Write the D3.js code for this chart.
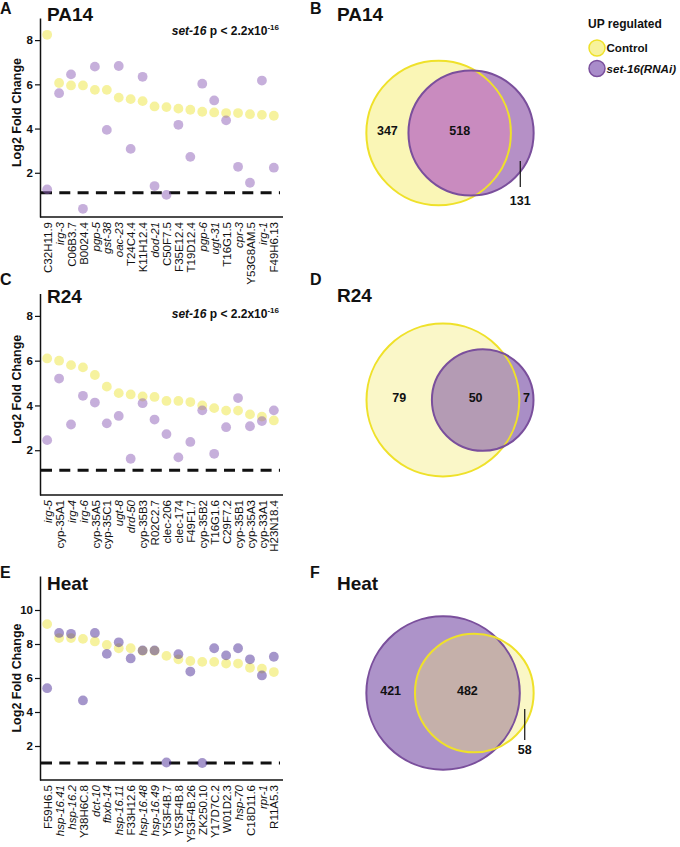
<!DOCTYPE html>
<html><head><meta charset="utf-8">
<script src="https://cdn.jsdelivr.net/npm/d3@7"></script>
<style>
body{margin:0;background:#fff}
svg{display:block}
text{font-family:"Liberation Sans",Arial,Helvetica,sans-serif;fill:#111}
</style>
</head><body>
<svg id="chart" width="680" height="847"></svg>
<script>
// ---------------- data ----------------
const pa14Genes = ["C32H11.9","irg-3","C06B3.7","B0024.4","pgp-5","gst-38","oac-23","T24C4.4","K11H12.4","dod-21","C50F7.5","F35E12.4","T19D12.4","pgp-6","ugt-31","T16G1.5","cpr-3","Y53G8AM.5","irg-1","F49H6.13"];
const pa14Italic = ["irg-3","pgp-5","gst-38","oac-23","dod-21","pgp-6","ugt-31","cpr-3","irg-1"];
const pa14Control = [8.24,6.06,5.95,5.95,5.75,5.75,5.4,5.33,5.24,5.0,4.97,4.9,4.85,4.76,4.73,4.7,4.7,4.65,4.62,4.58];
const pa14Set16 = [1.25,5.6,6.45,0.37,6.8,3.94,6.83,3.08,6.34,1.4,1.0,4.17,2.72,6.03,5.27,4.37,2.27,1.55,6.17,2.23];

const r24Genes = ["irg-5","cyp-35A1","irg-4","irg-6","cyp-35A5","cyp-35C1","ugt-8","drd-50","cyp-35B3","R02C2.7","clec-206","clec-174","F49F1.7","cyp-35B2","T16G1.6","C29F7.2","cyp-35B1","cyp-35A3","cyp-33A1","H23N18.4"];
const r24Italic = ["irg-5","irg-4","irg-6","ugt-8","drd-50"];
const r24Control = [6.1,6.0,5.8,5.7,5.36,4.84,4.55,4.49,4.4,4.38,4.2,4.2,4.15,4.0,3.88,3.77,3.77,3.6,3.5,3.33];
const r24Set16 = [2.45,5.2,3.15,4.43,4.13,3.2,3.53,1.62,4.1,3.37,2.72,1.68,2.37,3.78,1.84,3.03,4.33,3.07,3.3,3.78];

const heatGenes = ["F59H6.5","hsp-16.41","hsp-16.2","Y38H6C.8","dct-10","fbxb-14","hsp-16.11","F33H12.6","hsp-16.48","hsp-16.49","Y53F4B.7","Y53F4B.8","Y53F4B.26","ZK250.10","Y17D7C.2","W01D2.3","hsp-70","C18D11.6","rpr-1","R11A5.3"];
const heatItalic = ["hsp-16.41","hsp-16.2","dct-10","fbxb-14","hsp-16.11","hsp-16.48","hsp-16.49","hsp-70","rpr-1"];
const heatControl = [9.17,8.35,8.35,8.3,8.15,7.95,7.75,7.75,7.6,7.6,7.3,7.1,7.0,6.95,6.95,6.85,6.85,6.6,6.55,6.35];
const heatSet16 = [5.4,8.65,8.6,4.68,8.65,7.42,8.1,7.15,7.62,7.62,1.03,7.4,6.38,1.0,7.75,7.33,7.75,7.1,6.15,7.25];

const yTicksInfection = [2,4,6,8];
const yTicksHeat = [2,4,6,8,10];
const thresholds = [1.1, 1.1, 1.0];

// Venn counts: [left only, both, right only]; left circle is the larger set
const pa14Venn = {left:"Control", right:"set-16", counts:[347,518,131]};
const r24Venn  = {left:"Control", right:"set-16", counts:[79,50,7]};
const heatVenn = {left:"set-16", right:"Control", counts:[421,482,58]};

const legendItems = ["Control","set-16(RNAi)"];

// ---------------- drawing ----------------
const svg = d3.select("#chart");

function scatterPanel(o){
  const g = svg.append("g");
  const x = d3.scalePoint().domain(o.genes).range([40,281]).padding(0.6);
  const y = d3.scaleLinear().domain([0,o.yMax]).range([o.bottom,o.top]);

  const ya = g.append("g").attr("transform","translate(40,0)")
    .call(d3.axisLeft(y).tickValues(o.ticks).tickSize(5).tickSizeOuter(0).tickPadding(2));
  ya.select(".domain").attr("stroke","#111").attr("stroke-width",1.5);
  ya.selectAll(".tick line").attr("stroke","#111").attr("stroke-width",1.2);
  ya.selectAll(".tick text").style("font-size","11.5px").style("font-weight","bold").attr("fill","#111");

  const xa = g.append("g").attr("transform",`translate(0,${o.bottom})`)
    .call(d3.axisBottom(x).tickSize(0).tickSizeOuter(0).tickPadding(0));
  xa.select(".domain").attr("stroke","#111").attr("stroke-width",1.5).attr("d",`M40,0H283`);
  xa.selectAll(".tick text")
    .attr("transform","rotate(-90)")
    .attr("text-anchor","end")
    .attr("x",-5).attr("y",0).attr("dy","0.36em")
    .style("font-size","11.5px").attr("fill","#111")
    .style("font-style",d=>o.italic.includes(d)?"italic":"normal");

  g.append("line").attr("x1",41).attr("x2",280)
    .attr("y1",y(o.thr)).attr("y2",y(o.thr))
    .attr("stroke","#111").attr("stroke-width",3).attr("stroke-dasharray","11,7.3");

  g.append("g").selectAll("circle").data(o.ctrl).join("circle")
    .attr("cx",(d,i)=>x(o.genes[i])).attr("cy",d=>y(d)).attr("r",4.9)
    .attr("fill","#ede53d").attr("fill-opacity",0.5);
  g.append("g").selectAll("circle").data(o.set).join("circle")
    .attr("cx",(d,i)=>x(o.genes[i])).attr("cy",d=>y(d)).attr("r",4.9)
    .attr("fill",o.purple).attr("fill-opacity",0.5);

  g.append("text").attr("transform",`translate(17,${(o.top+o.bottom)/2 + o.labelShift}) rotate(-90)`)
    .attr("text-anchor","middle").attr("dy","0.35em")
    .style("font-size","12.5px").style("font-weight","bold").text("Log2 Fold Change");

  g.append("text").attr("x",0).attr("y",o.letterY).style("font-size","16px").style("font-weight","bold").text(o.letter);
  g.append("text").attr("x",47).attr("y",o.titleY).style("font-size","19px").style("font-weight","bold").text(o.title);

  if(o.pY){
    const t = g.append("text").attr("x",279).attr("y",o.pY).attr("text-anchor","end")
      .style("font-size","12px").style("font-weight","bold");
    t.append("tspan").style("font-style","italic").text("set-16");
    t.append("tspan").text(" p < 2.2x10");
    t.append("tspan").attr("dy","-5").style("font-size","8px").text("-16");
  }
}

scatterPanel({genes:pa14Genes,italic:pa14Italic,ctrl:pa14Control,set:pa14Set16,ticks:yTicksInfection,
  yMax:9,top:18,bottom:217,thr:thresholds[0],purple:"#8d5fb8",letter:"A",letterY:14,title:"PA14",titleY:21,pY:35,labelShift:-5});
scatterPanel({genes:r24Genes,italic:r24Italic,ctrl:r24Control,set:r24Set16,ticks:yTicksInfection,
  yMax:9,top:293.5,bottom:495,thr:thresholds[1],purple:"#8d5fb8",letter:"C",letterY:285,title:"R24",titleY:303,pY:318,labelShift:-5});
scatterPanel({genes:heatGenes,italic:heatItalic,ctrl:heatControl,set:heatSet16,ticks:yTicksHeat,
  yMax:12,top:576,bottom:780,thr:thresholds[2],purple:"#4b2d97",letter:"E",letterY:578,title:"Heat",titleY:590,pY:null,labelShift:0});

// ------- Venn -------
function lens(r1,r2,d){
  if(d>=r1+r2) return 0;
  if(d<=Math.abs(r1-r2)) return Math.PI*Math.min(r1,r2)**2;
  const a1 = r1*r1*Math.acos((d*d+r1*r1-r2*r2)/(2*d*r1));
  const a2 = r2*r2*Math.acos((d*d+r2*r2-r1*r1)/(2*d*r2));
  const a3 = 0.5*Math.sqrt((-d+r1+r2)*(d+r1-r2)*(d-r1+r2)*(d+r1+r2));
  return a1+a2-a3;
}
function vennPanel(v,o){
  const [a,b,c] = v.counts;
  const nL = a+b, nR = b+c;
  const rL0 = Math.sqrt(nL/Math.PI), rR0 = Math.sqrt(nR/Math.PI);
  let lo=Math.abs(rL0-rR0), hi=rL0+rR0;
  for(let i=0;i<80;i++){ const m=(lo+hi)/2; if(lens(rL0,rR0,m)>b) lo=m; else hi=m; }
  const d0=(lo+hi)/2;
  const width0 = Math.max(rL0, d0+rR0) + rL0;
  const s = d3.scaleLinear().domain([0,width0]).range([0,o.width]);
  const rL = s(rL0), rR = s(rR0), d = s(d0);
  const left = o.cx - o.width/2;
  const cL = left + rL, cR = cL + d;
  const g = svg.append("g");
  const id = "clip"+o.letter;
  g.append("clipPath").attr("id",id).append("circle").attr("cx",cL).attr("cy",o.cy).attr("r",rL);
  const colL = v.left==="Control"?o.yellowFill:o.purpleFill;
  const colR = v.right==="Control"?o.yellowFill:o.purpleFill;
  const strokeL = v.left==="Control"?"#efe12a":"#7a4f9c";
  const strokeR = v.right==="Control"?"#efe12a":"#7a4f9c";
  g.append("circle").attr("cx",cL).attr("cy",o.cy).attr("r",rL).attr("fill",colL);
  g.append("circle").attr("cx",cR).attr("cy",o.cy).attr("r",rR).attr("fill",colR);
  g.append("circle").attr("cx",cR).attr("cy",o.cy).attr("r",rR).attr("fill",o.overlapFill).attr("clip-path",`url(#${id})`);
  g.append("circle").attr("cx",cL).attr("cy",o.cy).attr("r",rL).attr("fill","none").attr("stroke",strokeL).attr("stroke-width",2);
  g.append("circle").attr("cx",cR).attr("cy",o.cy).attr("r",rR).attr("fill","none").attr("stroke",strokeR).attr("stroke-width",2);
  const ty = o.cy-2;
  const lab = (x,yy,t)=>g.append("text").attr("x",x).attr("y",yy).attr("text-anchor","middle").attr("dy","0.35em")
      .style("font-size","12.5px").style("font-weight","bold").text(t);
  lab((left + (cR-rR))/2, ty, a);
  lab(((cR-rR)+(cL+rL))/2, ty, b);
  const rx = ((cL+rL)+(cR+rR))/2 - 2;
  if(o.leader){
    g.append("line").attr("x1",rx).attr("x2",rx).attr("y1",o.cy+o.leader[0]).attr("y2",o.cy+o.leader[1])
      .attr("stroke","#111").attr("stroke-width",1.2);
    lab(rx, o.cy+o.leader[2], c);
  } else lab(rx+2, ty, c);
  svg.append("text").attr("x",310).attr("y",o.letterY).style("font-size","16px").style("font-weight","bold").text(o.letter);
  svg.append("text").attr("x",337).attr("y",o.titleY).style("font-size","19px").style("font-weight","bold").text(o.title);
}
vennPanel(pa14Venn,{letter:"B",title:"PA14",letterY:14,titleY:21,cx:450,cy:133,width:167.3,
  yellowFill:"#faf6b6",purpleFill:"#b590c6",overlapFill:"#c98bbf",leader:[28,54,68]});
vennPanel(r24Venn,{letter:"D",title:"R24",letterY:285,titleY:302,cx:450,cy:400,width:167,
  yellowFill:"#faf7c8",purpleFill:"#a98ec6",overlapFill:"#b49bb4",leader:null});
vennPanel(heatVenn,{letter:"F",title:"Heat",letterY:578,titleY:590,cx:450,cy:693,width:167.3,
  yellowFill:"#faf7c6",purpleFill:"#ad93c9",overlapFill:"#c5b0aa",leader:[16,47,57]});

// legend
const lg = svg.append("g");
lg.append("text").attr("x",588).attr("y",28).style("font-size","12px").style("font-weight","bold").text("UP regulated");
const li = lg.selectAll("g.item").data(legendItems).join("g").attr("class","item")
  .attr("transform",(d,i)=>`translate(597,${48+i*20.5})`);
li.append("circle").attr("r",8).attr("fill",(d,i)=>i?"#a98cca":"#f7f29c")
  .attr("stroke",(d,i)=>i?"#7a4f9c":"#efe12a").attr("stroke-width",1.5);
li.append("text").attr("x",9.5).attr("dy","0.35em").style("font-size","11.6px").style("font-weight","bold")
  .style("font-style",(d,i)=>i?"italic":"normal").text(d=>d);
</script>
</body></html>
